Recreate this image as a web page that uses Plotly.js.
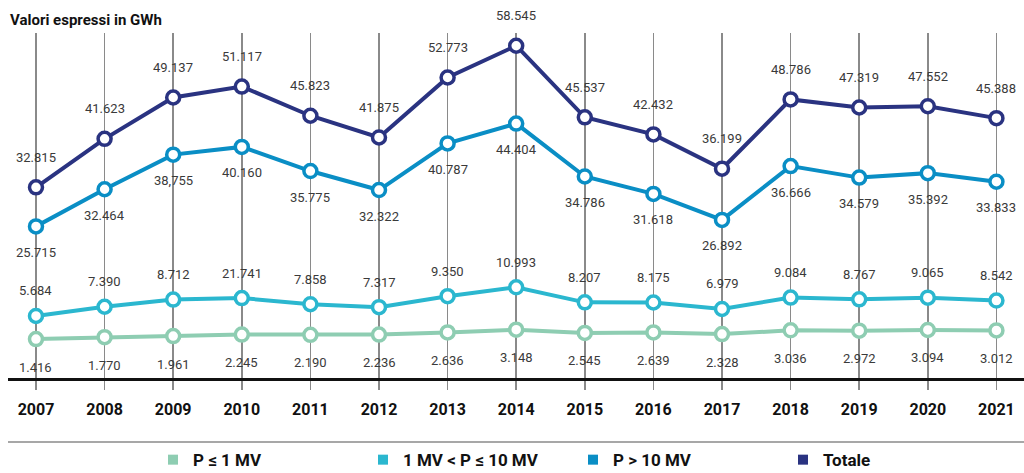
<!DOCTYPE html>
<html>
<head>
<meta charset="utf-8">
<script src="https://cdn.plot.ly/plotly-3.0.1.min.js"></script>
<style>html,body{margin:0;padding:0;background:#fff;}#chart{width:1024px;height:473px;}</style>
</head>
<body>
<div id="chart"></div>
<script>
// ---- data ----
const years = [2007,2008,2009,2010,2011,2012,2013,2014,2015,2016,2017,2018,2019,2020,2021];
const yearLabels = ["2007","2008","2009","2010","2011","2012","2013","2014","2015","2016","2017","2018","2019","2020","2021"];

const seriesNames = ["P ≤ 1 MV", "1 MV < P ≤ 10 MV", "P > 10 MV", "Totale"];

// plotted values (as read from point positions)
const pLow = [1.416,1.770,1.961,2.245,2.190,2.236,2.636,3.148,2.545,2.639,2.328,3.036,2.972,3.094,3.012];
const pMid = [5.684,7.390,8.712,9.0,7.858,7.317,9.350,10.993,8.207,8.175,6.979,9.084,8.767,9.065,8.542];
const pHigh = [25.715,32.464,38.755,40.160,35.775,32.322,40.787,44.404,34.786,31.618,26.892,36.666,34.579,35.392,33.833];
const total = [32.815,41.623,49.137,51.117,45.823,41.875,52.773,58.545,45.537,42.432,36.199,48.786,47.319,47.552,45.388];

// printed labels (as written in the chart)
const lowLabels = ["1.416","1.770","1.961","2.245","2.190","2.236","2.636","3.148","2.545","2.639","2.328","3.036","2.972","3.094","3.012"];
const midLabels = ["5.684","7.390","8.712","21.741","7.858","7.317","9.350","10.993","8.207","8.175","6.979","9.084","8.767","9.065","8.542"];
const highLabels = ["25.715","32.464","38,755","40.160","35.775","32.322","40.787","44.404","34.786","31.618","26.892","36.666","34.579","35.392","33.833"];
const totalLabels = ["32.815","41.623","49.137","51.117","45.823","41.875","52.773","58.545","45.537","42.432","36.199","48.786","47.319","47.552","45.388"];

const colors = ["#8ecdb2", "#2bb7cf", "#0a8ec5", "#2a3381"];

// ---- build ----
const FONT = "Roboto, 'Liberation Sans', sans-serif";

function lineTrace(y, color, yaxis) {
  return {
    x: years, y: y, yaxis: yaxis, type: "scatter", mode: "lines+markers",
    cliponaxis: false, showlegend: false, hoverinfo: "skip",
    line: {color: color, width: 4},
    marker: {symbol: "circle", size: 13, color: "#ffffff", line: {color: color, width: 3.5}}
  };
}
function legendTrace(name, color) {
  return {
    x: [null], y: [null], type: "scatter", mode: "markers", name: "<b>" + name + "</b>",
    marker: {symbol: "square", size: 10, color: color}, showlegend: true, hoverinfo: "skip"
  };
}

const traces = [
  lineTrace(pLow, colors[0], "y2"),
  lineTrace(pMid, colors[1], "y2"),
  lineTrace(pHigh, colors[2], "y"),
  lineTrace(total, colors[3], "y"),
  legendTrace(seriesNames[0], colors[0]),
  legendTrace(seriesNames[1], colors[1]),
  legendTrace(seriesNames[2], colors[2]),
  legendTrace(seriesNames[3], colors[3])
];

function labelAnns(vals, labels, yref, shift) {
  return vals.map((v, i) => ({
    x: years[i], y: v, xref: "x", yref: yref, text: labels[i], showarrow: false,
    yanchor: "middle", xanchor: "center", yshift: shift,
    font: {family: FONT, size: 13, color: "#3a3a3a"}
  }));
}

const annotations = [].concat(
  labelAnns(pLow, lowLabels, "y2", -28),
  labelAnns(pMid, midLabels, "y2", 25),
  labelAnns(pHigh, highLabels, "y", -26),
  labelAnns(total, totalLabels, "y", 30)
);

const layout = {
  width: 1024, height: 473,
  margin: {l: 8, r: 0, t: 33, b: 95, pad: 0, autoexpand: false},
  paper_bgcolor: "#ffffff", plot_bgcolor: "#ffffff",
  title: {
    text: "<b>Valori espressi in GWh</b>",
    x: 10/1024, xanchor: "left", xref: "container",
    y: 1 - 20/473, yanchor: "middle", yref: "container",
    font: {family: FONT, size: 15, color: "#111111"}
  },
  xaxis: {
    range: [2006.592, 2021.402], tickmode: "array", tickvals: years, ticktext: yearLabels,
    showgrid: true, gridcolor: "#8a8a8a", gridwidth: 1.5,
    showline: true, linecolor: "#111111", linewidth: 2.5,
    ticks: "outside", ticklen: 9, tickcolor: "#8a8a8a", tickwidth: 1.5,
    ticklabelstandoff: 6,
    tickfont: {family: FONT, size: 16, color: "#111111", weight: "bold"},
    zeroline: false, fixedrange: true, automargin: false
  },
  yaxis: {range: [-1.84, 60.86], visible: false, showgrid: false, zeroline: false, fixedrange: true},
  yaxis2: {range: [-5.79, 58.03], overlaying: "y", visible: false, showgrid: false, zeroline: false, fixedrange: true},
  showlegend: true,
  legend: {
    orientation: "h", x: 0.1427, xanchor: "left", y: -0.238, yanchor: "middle",
    entrywidth: 165, entrywidthmode: "pixels", traceorder: "normal",
    font: {family: FONT, size: 17, color: "#111111"}, bgcolor: "rgba(0,0,0,0)"
  },
  shapes: [{
    type: "line", xref: "paper", yref: "paper", x0: 0, x1: 1, y0: -0.1855, y1: -0.1855,
    line: {color: "#8a8a8a", width: 1.5}
  }],
  annotations: annotations,
  hovermode: false
};

Plotly.newPlot("chart", traces, layout, {displayModeBar: false, staticPlot: true});
</script>
</body>
</html>
